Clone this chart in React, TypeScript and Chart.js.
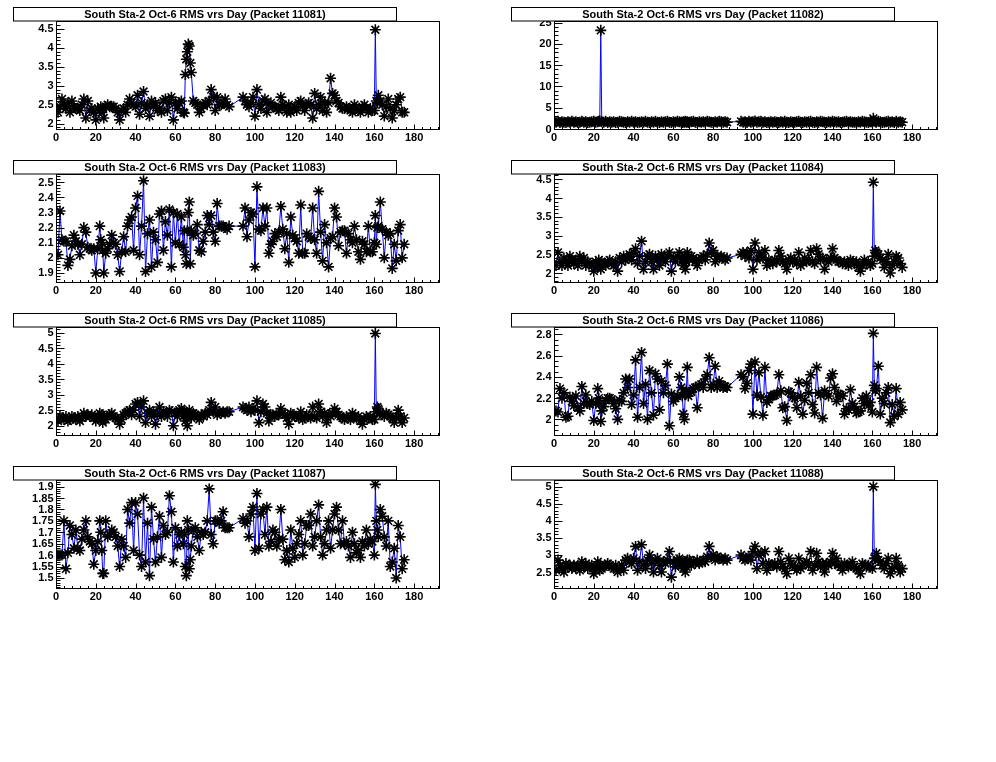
import React, { useEffect, useRef } from 'react';
import { Chart, registerables } from 'chart.js';

Chart.register(...registerables);

// Day of each measurement (shared by all packets)
const days = [
  1, 2, 3, 4, 5, 6, 7, 8, 9, 10,
  11, 12, 13, 14, 15, 16, 17, 18, 19, 20,
  21, 22, 22.5, 23, 23.5, 24, 25, 26, 27, 28,
  29, 30, 31, 32, 33, 34, 35, 36, 37, 38,
  39, 40, 41, 42, 43, 44, 45, 46, 47, 48,
  49, 50, 51, 52, 53, 54, 55, 56, 57, 58,
  59, 60, 61, 62, 63, 64, 64.5, 65, 65.5, 66,
  66.5, 67, 67.5, 68, 69, 70, 71, 72, 73, 74,
  75, 76, 77, 78, 79, 80, 81, 82, 83, 84,
  85, 86, 87, 94, 95, 96, 97, 98, 99, 100,
  101, 102, 103, 104, 105, 106, 107, 108, 109, 110,
  111, 112, 113, 114, 115, 116, 117, 118, 119, 120,
  121, 122, 123, 124, 125, 126, 127, 128, 129, 130,
  131, 132, 133, 134, 135, 136, 137, 138, 139, 140,
  141, 142, 143, 144, 145, 146, 147, 148, 149, 150,
  151, 152, 153, 154, 155, 156, 157, 158, 159, 160,
  160.5, 161, 161.5, 162, 163, 164, 165, 166, 167, 168,
  169, 170, 171, 172, 173, 174, 175,
];

const rms11081 = [
  2.3, 2.45, 2.65, 2.5, 2.4, 2.55, 2.3, 2.6, 2.45, 2.4,
  2.4, 2.35, 2.5, 2.65, 2.15, 2.6, 2.35, 2.4, 2.3, 2.1,
  2.4, 2.35, 2.45, 2.3, 2.4, 2.15, 2.45, 2.5, 2.45, 2.45,
  2.45, 2.4, 2.3, 2.1, 2.35, 2.4, 2.3, 2.5, 2.65, 2.55,
  2.5, 2.45, 2.75, 2.25, 2.55, 2.85, 2.4, 2.5, 2.2, 2.6,
  2.45, 2.55, 2.35, 2.4, 2.3, 2.6, 2.65, 2.35, 2.55, 2.7,
  2.1, 2.55, 2.4, 2.55, 2.6, 2.3, 2.28, 3.3, 3.7, 3.9,
  4.1, 4.05, 3.6, 3.35, 2.6, 2.55, 2.5, 2.3, 2.4, 2.5,
  2.55, 2.5, 2.6, 2.9, 2.7, 2.35, 2.7, 2.5, 2.5, 2.55,
  2.65, 2.5, 2.45, 2.7, 2.6, 2.5, 2.45, 2.55, 2.7, 2.2,
  2.9, 2.5, 2.4, 2.6, 2.65, 2.3, 2.5, 2.55, 2.45, 2.45,
  2.4, 2.35, 2.7, 2.5, 2.45, 2.3, 2.5, 2.3, 2.4, 2.45,
  2.35, 2.55, 2.6, 2.45, 2.35, 2.5, 2.55, 2.5, 2.15, 2.8,
  2.4, 2.5, 2.7, 2.35, 2.55, 2.3, 2.55, 3.2, 2.8, 2.75,
  2.6, 2.55, 2.45, 2.4, 2.4, 2.45, 2.4, 2.35, 2.3, 2.5,
  2.4, 2.35, 2.3, 2.45, 2.5, 2.4, 2.3, 2.4, 2.35, 2.35,
  4.48, 2.6, 2.55, 2.75, 2.6, 2.5, 2.2, 2.45, 2.65, 2.4,
  2.15, 2.35, 2.5, 2.65, 2.7, 2.3, 2.3,
];

const rms11082 = [
  1.6, 1.8, 1.5, 1.7, 1.6, 1.5, 1.7, 1.6, 1.8, 1.6,
  1.7, 1.5, 1.6, 1.8, 1.6, 1.7, 1.5, 1.6, 1.7, 1.8,
  1.6, 1.7, 1.8, 1.9, 23.2, 1.7, 1.6, 1.8, 1.5, 1.7,
  1.6, 1.7, 1.5, 1.6, 1.8, 1.7, 1.6, 1.5, 1.7, 1.6,
  1.8, 1.6, 1.7, 1.5, 1.6, 1.7, 1.6, 1.8, 1.6, 1.5,
  1.7, 1.6, 1.8, 1.6, 1.5, 1.7, 1.6, 1.7, 1.8, 1.6,
  1.5, 1.7, 1.6, 1.8, 1.7, 1.6, 1.5, 1.7, 1.6, 1.8,
  1.6, 1.7, 1.5, 1.6, 1.7, 1.8, 1.6, 1.5, 1.7, 1.6,
  1.7, 1.6, 1.8, 1.7, 1.6, 1.5, 1.7, 1.6, 1.8, 1.7,
  1.6, 1.7, 1.6, 1.8, 1.6, 1.7, 1.5, 1.8, 1.6, 1.7,
  1.9, 1.6, 1.7, 1.8, 1.6, 1.7, 1.5, 1.6, 1.7, 1.6,
  1.7, 1.6, 1.5, 1.7, 1.6, 1.8, 1.6, 1.5, 1.7, 1.6,
  1.6, 1.7, 1.8, 1.6, 1.5, 1.7, 1.6, 1.7, 1.8, 1.6,
  1.5, 1.7, 1.6, 1.8, 1.7, 1.6, 1.5, 1.7, 1.6, 1.8,
  1.7, 1.6, 1.7, 1.5, 1.6, 1.7, 1.8, 1.6, 1.7, 1.6,
  1.6, 1.5, 1.7, 1.6, 1.8, 1.7, 1.6, 1.5, 1.7, 1.6,
  2.5, 1.9, 1.7, 1.6, 1.8, 1.7, 1.5, 1.6, 1.7, 1.8,
  1.6, 1.7, 1.5, 1.8, 1.6, 1.7, 1.6,
];

const rms11083 = [
  2.02, 2.31, 2.12, 2.11, 2.11, 1.95, 1.99, 2.08, 2.15, 2.11,
  2.09, 2.02, 2.09, 2.2, 2.17, 2.07, 2.06, 2.05, 2.06, 1.9,
  2.06, 2.21, 2.12, 2.1, 2.05, 1.9, 2.03, 2.06, 2.09, 2.15,
  2.1, 2.09, 2.02, 1.91, 2.04, 2.14, 2.04, 2.21, 2.25, 2.27,
  2.05, 2.33, 2.41, 2.02, 2.21, 2.51, 1.91, 2.16, 2.25, 1.94,
  2.17, 2.12, 1.97, 2.29, 2.31, 2.05, 2.24, 2.15, 2.32, 1.94,
  2.3, 2.1, 2.29, 2.09, 2.27, 2.07, 2.18, 2.02, 1.96, 2.18,
  2.3, 2.37, 1.96, 2.18, 2.15, 2.16, 2.22, 2.05, 2.04, 2.11,
  2.17, 2.28, 2.22, 2.28, 2.17, 2.11, 2.36, 2.21, 2.21, 2.21,
  2.2, 2.19, 2.21, 2.21, 2.33, 2.14, 2.25, 2.3, 2.29, 1.94,
  2.47, 2.19, 2.18, 2.33, 2.21, 2.33, 2.03, 2.09, 2.11, 2.16,
  2.14, 2.17, 2.34, 2.19, 2.06, 2.16, 1.97, 2.27, 2.15, 2.13,
  2.11, 2.03, 2.35, 2.03, 2.03, 2.16, 2.14, 2.13, 2.33, 2.12,
  2.03, 2.44, 2.17, 1.98, 2.22, 2.1, 1.94, 2.13, 2.14, 2.33,
  2.27, 2.08, 2.17, 2.18, 2.18, 2.03, 2.16, 2.12, 2.1, 2.21,
  2.12, 2.04, 1.99, 2.11, 2.09, 2.04, 2.21, 2.04, 2.04, 2.1,
  2.28, 2.09, 2.2, 2.21, 2.37, 2.19, 2.0, 2.17, 2.15, 2.16,
  1.93, 2.09, 1.98, 2.18, 2.22, 2.0, 2.09,
];

const rms11084 = [
  2.2, 2.55, 2.3, 2.2, 2.4, 2.3, 2.2, 2.45, 2.35, 2.25,
  2.35, 2.2, 2.45, 2.3, 2.4, 2.2, 2.3, 2.25, 2.2, 2.05,
  2.3, 2.2, 2.35, 2.25, 2.1, 2.3, 2.25, 2.2, 2.3, 2.35,
  2.25, 2.2, 2.3, 2.05, 2.4, 2.3, 2.45, 2.35, 2.4, 2.5,
  2.35, 2.55, 2.65, 2.25, 2.45, 2.85, 2.1, 2.3, 2.45, 2.5,
  2.3, 2.1, 2.45, 2.35, 2.2, 2.5, 2.4, 2.3, 2.45, 2.55,
  2.05, 2.4, 2.3, 2.45, 2.55, 2.3, 2.4, 2.2, 2.45, 2.1,
  2.3, 2.55, 2.4, 2.35, 2.45, 2.4, 2.3, 2.2, 2.35, 2.4,
  2.45, 2.35, 2.5, 2.8, 2.55, 2.6, 2.3, 2.45, 2.4, 2.45,
  2.4, 2.35, 2.4, 2.5, 2.55, 2.45, 2.55, 2.4, 2.6, 2.1,
  2.8, 2.35, 2.55, 2.45, 2.4, 2.6, 2.2, 2.35, 2.3, 2.25,
  2.35, 2.3, 2.6, 2.45, 2.3, 2.25, 2.1, 2.35, 2.4, 2.3,
  2.35, 2.25, 2.55, 2.2, 2.3, 2.4, 2.3, 2.35, 2.6, 2.3,
  2.25, 2.65, 2.5, 2.35, 2.4, 2.1, 2.35, 2.3, 2.4, 2.65,
  2.4, 2.35, 2.3, 2.3, 2.25, 2.3, 2.25, 2.2, 2.35, 2.3,
  2.25, 2.3, 2.15, 2.05, 2.2, 2.35, 2.25, 2.3, 2.2, 2.25,
  4.42, 2.45, 2.6, 2.55, 2.5, 2.4, 2.35, 2.15, 2.3, 2.5,
  2.0, 2.2, 2.3, 2.45, 2.4, 2.25, 2.15,
];

const rms11085 = [
  2.15, 2.3, 2.25, 2.2, 2.3, 2.15, 2.2, 2.3, 2.25, 2.2,
  2.3, 2.15, 2.25, 2.4, 2.3, 2.35, 2.3, 2.35, 2.25, 2.15,
  2.3, 2.4, 2.2, 2.35, 2.1, 2.3, 2.2, 2.3, 2.35, 2.4,
  2.3, 2.25, 2.2, 2.05, 2.2, 2.35, 2.4, 2.45, 2.5, 2.35,
  2.5, 2.7, 2.75, 2.3, 2.6, 2.8, 2.1, 2.4, 2.5, 2.3,
  2.45, 2.05, 2.35, 2.6, 2.3, 2.45, 2.4, 2.3, 2.5, 2.45,
  2.0, 2.4, 2.3, 2.5, 2.55, 2.3, 2.45, 2.15, 2.4, 2.0,
  2.3, 2.5, 2.35, 2.25, 2.4, 2.35, 2.3, 2.2, 2.35, 2.3,
  2.4, 2.35, 2.5, 2.75, 2.45, 2.6, 2.35, 2.45, 2.4, 2.45,
  2.4, 2.45, 2.45, 2.6, 2.55, 2.5, 2.6, 2.45, 2.55, 2.5,
  2.8, 2.1, 2.45, 2.7, 2.6, 2.4, 2.15, 2.35, 2.35, 2.3,
  2.35, 2.35, 2.55, 2.4, 2.35, 2.25, 2.05, 2.4, 2.35, 2.3,
  2.3, 2.25, 2.45, 2.2, 2.25, 2.35, 2.3, 2.25, 2.6, 2.3,
  2.25, 2.7, 2.45, 2.3, 2.4, 2.1, 2.35, 2.3, 2.4, 2.55,
  2.45, 2.35, 2.3, 2.25, 2.2, 2.3, 2.25, 2.2, 2.4, 2.3,
  2.25, 2.3, 2.15, 2.05, 2.2, 2.3, 2.25, 2.3, 2.2, 2.2,
  4.97, 2.45, 2.6, 2.55, 2.4, 2.35, 2.3, 2.4, 2.35, 2.3,
  2.25, 2.1, 2.25, 2.5, 2.3, 2.1, 2.25,
];

const rms11086 = [
  2.08, 2.07, 2.29, 2.2, 2.25, 2.02, 2.03, 2.21, 2.17, 2.13,
  2.22, 2.11, 2.08, 2.31, 2.15, 2.23, 2.15, 2.14, 2.17, 1.99,
  2.15, 2.29, 2.2, 2.15, 1.98, 2.08, 2.12, 2.18, 2.2, 2.2,
  2.19, 2.15, 2.1, 2.0, 2.18, 2.17, 2.25, 2.38, 2.3, 2.38,
  2.14, 2.23, 2.56, 2.02, 2.3, 2.63, 2.15, 2.33, 2.0, 2.46,
  2.25, 2.04, 2.43, 2.38, 2.09, 2.36, 2.25, 2.32, 2.52, 1.94,
  2.24, 2.17, 2.2, 2.22, 2.4, 2.3, 2.22, 2.05, 2.0, 2.25,
  2.27, 2.49, 2.22, 2.25, 2.26, 2.29, 2.3, 2.11, 2.32, 2.33,
  2.3, 2.38, 2.42, 2.58, 2.3, 2.33, 2.5, 2.3, 2.36, 2.32,
  2.3, 2.31, 2.3, 2.42, 2.4, 2.29, 2.34, 2.46, 2.52, 2.05,
  2.54, 2.23, 2.44, 2.21, 2.04, 2.49, 2.16, 2.19, 2.22, 2.22,
  2.23, 2.24, 2.42, 2.27, 2.11, 2.12, 1.99, 2.26, 2.25, 2.21,
  2.2, 2.11, 2.35, 2.22, 2.05, 2.18, 2.34, 2.25, 2.42, 2.14,
  2.06, 2.49, 2.25, 2.23, 2.01, 2.27, 2.24, 2.22, 2.39, 2.43,
  2.3, 2.17, 2.24, 2.23, 2.22, 2.05, 2.1, 2.09, 2.28, 2.15,
  2.12, 2.06, 2.07, 2.08, 2.2, 2.15, 2.22, 2.13, 2.16, 2.07,
  2.81, 2.32, 2.27, 2.29, 2.5, 2.05, 2.2, 2.15, 2.25, 2.3,
  1.97, 2.14, 2.03, 2.29, 2.05, 2.16, 2.09,
];

const rms11087 = [
  1.6, 1.6, 1.6, 1.75, 1.54, 1.61, 1.73, 1.69, 1.63, 1.71,
  1.63, 1.62, 1.67, 1.71, 1.75, 1.68, 1.66, 1.65, 1.56, 1.62,
  1.66, 1.75, 1.7, 1.62, 1.52, 1.52, 1.75, 1.68, 1.69, 1.71,
  1.7, 1.68, 1.64, 1.55, 1.67, 1.64, 1.59, 1.8, 1.74, 1.83,
  1.62, 1.83, 1.78, 1.6, 1.55, 1.85, 1.57, 1.74, 1.51, 1.81,
  1.67, 1.57, 1.68, 1.77, 1.59, 1.73, 1.69, 1.7, 1.86, 1.79,
  1.57, 1.72, 1.64, 1.69, 1.7, 1.65, 1.69, 1.55, 1.51, 1.75,
  1.71, 1.54, 1.58, 1.64, 1.71, 1.72, 1.68, 1.62, 1.7, 1.69,
  1.7, 1.75, 1.89, 1.69, 1.65, 1.75, 1.75, 1.74, 1.75, 1.79,
  1.72, 1.72, 1.72, 1.76, 1.74, 1.75, 1.68, 1.78, 1.81, 1.62,
  1.87, 1.63, 1.78, 1.8, 1.69, 1.81, 1.64, 1.66, 1.71, 1.7,
  1.64, 1.67, 1.8, 1.67, 1.58, 1.62, 1.57, 1.71, 1.63, 1.59,
  1.65, 1.69, 1.75, 1.6, 1.65, 1.73, 1.73, 1.78, 1.64, 1.68,
  1.75, 1.82, 1.68, 1.6, 1.65, 1.71, 1.75, 1.63, 1.71, 1.78,
  1.81, 1.71, 1.65, 1.75, 1.65, 1.66, 1.64, 1.59, 1.7, 1.65,
  1.61, 1.62, 1.59, 1.66, 1.64, 1.71, 1.65, 1.67, 1.66, 1.6,
  1.91, 1.75, 1.71, 1.68, 1.8, 1.77, 1.68, 1.64, 1.75, 1.55,
  1.57, 1.63, 1.5, 1.73, 1.68, 1.54, 1.58,
];

const rms11088 = [
  2.55, 2.85, 2.7, 2.6, 2.5, 2.75, 2.65, 2.7, 2.6, 2.7,
  2.6, 2.7, 2.55, 2.8, 2.65, 2.75, 2.6, 2.65, 2.7, 2.45,
  2.6, 2.8, 2.65, 2.55, 2.7, 2.6, 2.65, 2.7, 2.75, 2.7,
  2.65, 2.6, 2.7, 2.5, 2.6, 2.7, 2.55, 2.85, 2.9, 2.8,
  2.75, 2.9, 3.25, 2.55, 2.8, 3.3, 2.7, 2.6, 2.85, 3.0,
  2.75, 2.5, 2.85, 2.9, 2.7, 2.5, 2.8, 2.75, 2.85, 3.1,
  2.35, 2.8, 2.65, 2.85, 2.9, 2.7, 2.8, 2.6, 2.8, 2.5,
  2.65, 2.85, 2.75, 2.85, 2.7, 2.8, 2.75, 2.85, 2.75, 2.8,
  2.85, 2.8, 2.95, 3.25, 2.95, 3.0, 2.85, 2.95, 2.9, 2.9,
  2.85, 2.9, 2.85, 3.0, 2.9, 2.85, 2.9, 2.95, 2.85, 3.1,
  3.25, 2.6, 3.0, 3.05, 2.75, 3.1, 2.55, 2.75, 2.7, 2.7,
  2.75, 2.65, 3.1, 2.8, 2.65, 2.6, 2.45, 2.9, 2.75, 2.7,
  2.65, 2.55, 2.9, 2.6, 2.7, 2.75, 2.8, 2.7, 3.1, 2.55,
  2.7, 3.05, 2.8, 2.65, 2.75, 2.5, 2.75, 2.7, 2.8, 3.05,
  2.75, 2.9, 2.7, 2.65, 2.55, 2.75, 2.7, 2.65, 2.7, 2.8,
  2.65, 2.6, 2.55, 2.45, 2.75, 2.7, 2.65, 2.7, 2.65, 2.6,
  5.0, 2.9, 2.9, 3.05, 2.85, 2.8, 2.7, 2.6, 2.75, 2.9,
  2.45, 2.6, 2.65, 2.9, 2.7, 2.5, 2.6,
];

const xTicks = [0, 20, 40, 60, 80, 100, 120, 140, 160, 180];
const yTicks11081 = [2, 2.5, 3, 3.5, 4, 4.5];
const yTicks11082 = [0, 5, 10, 15, 20, 25];
const yTicks11083 = [1.9, 2, 2.1, 2.2, 2.3, 2.4, 2.5];
const yTicks11084 = [2, 2.5, 3, 3.5, 4, 4.5];
const yTicks11085 = [2, 2.5, 3, 3.5, 4, 4.5, 5];
const yTicks11086 = [2, 2.2, 2.4, 2.6, 2.8];
const yTicks11087 = [1.5, 1.55, 1.6, 1.65, 1.7, 1.75, 1.8, 1.85, 1.9];
const yTicks11088 = [2.5, 3, 3.5, 4, 4.5, 5];

const titleText = (p: string) => `South Sta-2 Oct-6 RMS vrs Day (Packet ${p})`;

type PanelCfg = {
  packet: string;
  values: number[];
  yMin: number;
  yMax: number;
  yTicks: number[];
  yMinor: number;
};

const panels: PanelCfg[] = [
  { packet: '11081', values: rms11081, yMin: 1.86, yMax: 4.71, yTicks: yTicks11081, yMinor: 0.1 },
  { packet: '11082', values: rms11082, yMin: 0, yMax: 25.4, yTicks: yTicks11082, yMinor: 1 },
  { packet: '11083', values: rms11083, yMin: 1.84, yMax: 2.555, yTicks: yTicks11083, yMinor: 0.02 },
  { packet: '11084', values: rms11084, yMin: 1.76, yMax: 4.64, yTicks: yTicks11084, yMinor: 0.1 },
  { packet: '11085', values: rms11085, yMin: 1.7, yMax: 5.18, yTicks: yTicks11085, yMinor: 0.1 },
  { packet: '11086', values: rms11086, yMin: 1.853, yMax: 2.87, yTicks: yTicks11086, yMinor: 0.05 },
  { packet: '11087', values: rms11087, yMin: 1.456, yMax: 1.929, yTicks: yTicks11087, yMinor: 0.01 },
  { packet: '11088', values: rms11088, yMin: 2.032, yMax: 5.196, yTicks: yTicks11088, yMinor: 0.1 },
];

const PAD_W = 498;
const PAD_H = 153;
const FONT = 'bold 11px "Liberation Sans", Arial, Helvetica, sans-serif';

function Panel({ cfg, left, top }: { cfg: PanelCfg; left: number; top: number }) {
  const ref = useRef<HTMLCanvasElement | null>(null);

  useEffect(() => {
    if (!ref.current) return;
    const framePlugin = {
      id: 'rootFrame',
      afterDraw(chart: any) {
        const { ctx, chartArea: a } = chart;
        const xs = chart.scales.x;
        const ys = chart.scales.y;
        const L = Math.round(a.left) + 0.5;
        const R = Math.round(a.right) + 0.5;
        const T = Math.round(a.top) + 0.5;
        const B = Math.round(a.bottom) + 0.5;
        ctx.save();
        ctx.strokeStyle = '#000';
        ctx.lineWidth = 1;
        ctx.strokeRect(L, T, R - L, B - T);

        ctx.beginPath();
        const eps = 1e-6;
        const isMajorY = (v: number) => cfg.yTicks.some((t) => Math.abs(t - v) < cfg.yMinor * 0.01);
        const k0 = Math.ceil(ys.min / cfg.yMinor - eps);
        const k1 = Math.floor(ys.max / cfg.yMinor + eps);
        for (let k = k0; k <= k1; k++) {
          const v = k * cfg.yMinor;
          const py = Math.round(ys.getPixelForValue(v)) + 0.5;
          const len = isMajorY(v) ? 8 : 4;
          ctx.moveTo(L, py);
          ctx.lineTo(L + len, py);
        }
        const xMinor = 4;
        const j0 = Math.ceil(xs.min / xMinor - eps);
        const j1 = Math.floor(xs.max / xMinor + eps);
        for (let j = j0; j <= j1; j++) {
          const v = j * xMinor;
          const px = Math.round(xs.getPixelForValue(v)) + 0.5;
          const major = xTicks.includes(v);
          const len = major ? 5 : 2.5;
          ctx.moveTo(px, B);
          ctx.lineTo(px, B - len);
        }
        ctx.stroke();

        ctx.fillStyle = '#000';
        ctx.font = FONT;
        ctx.textAlign = 'right';
        ctx.textBaseline = 'middle';
        for (const t of cfg.yTicks) {
          if (t < ys.min - eps || t > ys.max + eps) continue;
          ctx.fillText(String(t), L - 3, ys.getPixelForValue(t) + 0.5);
        }
        ctx.textAlign = 'center';
        ctx.textBaseline = 'alphabetic';
        for (const t of xTicks) {
          ctx.fillText(String(t), xs.getPixelForValue(t), B + 11);
        }

        // title box
        ctx.fillStyle = '#fff';
        ctx.fillRect(13.5, 7.5, 383, 13.5);
        ctx.strokeRect(13.5, 7.5, 383, 13.5);
        ctx.fillStyle = '#000';
        ctx.textAlign = 'center';
        ctx.textBaseline = 'middle';
        ctx.fillText(titleText(cfg.packet), 205, 14.8);
        ctx.restore();
      },
    };

    const chart = new Chart(ref.current, {
      type: 'line',
      data: {
        datasets: [
          {
            data: days.map((d, i) => ({ x: d, y: cfg.values[i] })),
            borderColor: '#0000ff',
            borderWidth: 1,
            pointStyle: 'star',
            pointRadius: 5.5,
            pointBorderColor: '#000000',
            pointBackgroundColor: '#000000',
            pointBorderWidth: 1.6,
            tension: 0,
            fill: false,
          } as any,
        ],
      },
      options: {
        responsive: false,
        animation: false,
        events: [],
        layout: { padding: { left: 56, top: 21, right: PAD_W - 439, bottom: PAD_H - 129 } },
        scales: {
          x: { type: 'linear', min: 0, max: 192.5, display: false },
          y: { type: 'linear', min: cfg.yMin, max: cfg.yMax, display: false },
        },
        plugins: {
          legend: { display: false },
          tooltip: { enabled: false },
        },
      },
      plugins: [framePlugin],
    });
    return () => chart.destroy();
  }, [cfg]);

  return (
    <canvas
      ref={ref}
      width={PAD_W}
      height={PAD_H}
      style={{ position: 'absolute', left, top, width: PAD_W, height: PAD_H }}
    />
  );
}

export default function App() {
  return (
    <div
      style={{
        position: 'absolute',
        left: 0,
        top: 0,
        width: 996,
        height: 762,
        background: '#ffffff',
        overflow: 'hidden',
      }}
    >
      {panels.map((p, i) => (
        <Panel key={p.packet} cfg={p} left={(i % 2) * PAD_W} top={Math.floor(i / 2) * PAD_H} />
      ))}
    </div>
  );
}
